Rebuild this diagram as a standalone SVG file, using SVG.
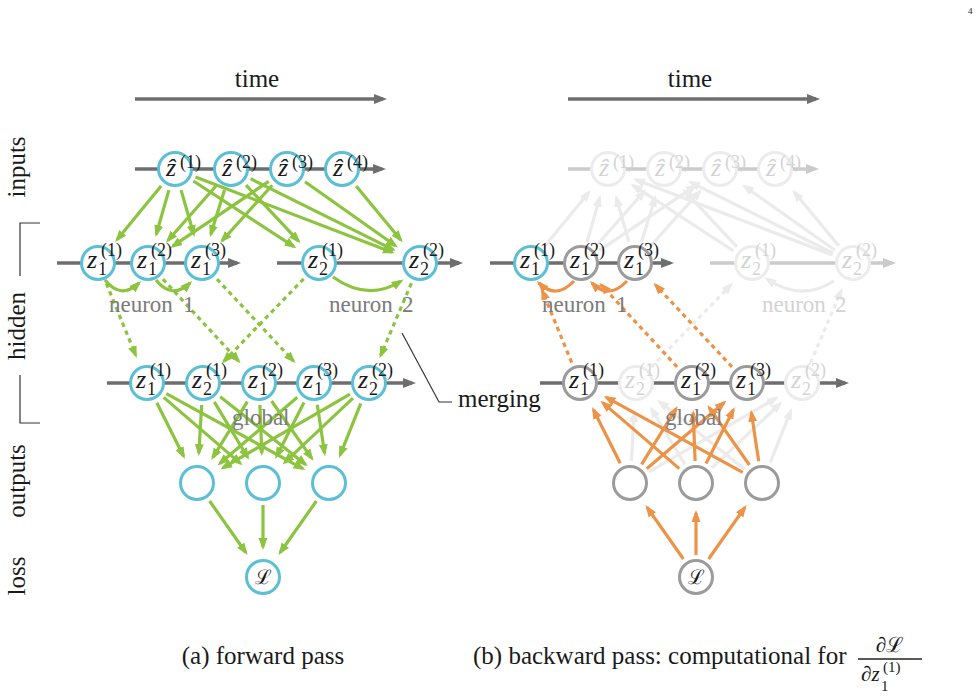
<svg xmlns="http://www.w3.org/2000/svg" width="979" height="699" viewBox="0 0 979 699">
<style>
text{font-family:"Liberation Serif","DejaVu Serif",serif;fill:#1a1a1a}
.lbl{font-size:25px}
.gl{font-size:23px;fill:#7b7b7b}
.gf{font-size:23px;fill:#d3d3d3}
.mi{font-size:26px;font-style:italic}
.sm{font-size:18px}
.ft{fill:#d3d3d3}
.n{fill:#fff;stroke:#5bbfd5;stroke-width:3}
.ng{fill:#fff;stroke:#9b9b9b;stroke-width:3}
.nf{fill:#fff;stroke:#ececec;stroke-width:3}
.ax{stroke:#6e6e6e;stroke-width:3.5;fill:none;marker-end:url(#aa)}
.axf{stroke:#cbcbcb;stroke-width:3.5;fill:none;marker-end:url(#aaf)}
.g{stroke:#8cc43f;stroke-width:3.2;fill:none;marker-end:url(#ag)}
.o{stroke:#ec9348;stroke-width:3.2;fill:none;marker-end:url(#ao)}
.f{stroke:#ebebeb;stroke-width:3.2;fill:none;marker-end:url(#af)}
.d{stroke-dasharray:4.5 4}
.br{stroke:#333;stroke-width:1.2;fill:none}
</style>
<defs>
<marker id="ag" markerUnits="userSpaceOnUse" markerWidth="12" markerHeight="10" viewBox="0 0 12 10" refX="9" refY="5" orient="auto"><path d="M0,0.5 L12,5 L0,9.5 z" fill="#8cc43f"/></marker>
<marker id="ao" markerUnits="userSpaceOnUse" markerWidth="12" markerHeight="10" viewBox="0 0 12 10" refX="9" refY="5" orient="auto"><path d="M0,0.5 L12,5 L0,9.5 z" fill="#ec9348"/></marker>
<marker id="af" markerUnits="userSpaceOnUse" markerWidth="12" markerHeight="10" viewBox="0 0 12 10" refX="9" refY="5" orient="auto"><path d="M0,0.5 L12,5 L0,9.5 z" fill="#ebebeb"/></marker>
<marker id="aa" markerUnits="userSpaceOnUse" markerWidth="13" markerHeight="11" viewBox="0 0 13 11" refX="9" refY="5.5" orient="auto"><path d="M0,0.5 L13,5.5 L0,10.5 z" fill="#6e6e6e"/></marker>
<marker id="aaf" markerUnits="userSpaceOnUse" markerWidth="13" markerHeight="11" viewBox="0 0 13 11" refX="9" refY="5.5" orient="auto"><path d="M0,0.5 L13,5.5 L0,10.5 z" fill="#cbcbcb"/></marker>
</defs>
<rect width="979" height="699" fill="#fff"/>
<text x="968" y="14" font-size="9">4</text>

<g id="labels">
<text class="lbl" x="257" y="87" text-anchor="middle">time</text>
<text class="lbl" x="690" y="87" text-anchor="middle">time</text>
<text class="lbl" transform="translate(25,167) rotate(-90)" text-anchor="middle">inputs</text>
<text class="lbl" transform="translate(25,326) rotate(-90)" text-anchor="middle">hidden</text>
<text class="lbl" transform="translate(25,481) rotate(-90)" text-anchor="middle">outputs</text>
<text class="lbl" transform="translate(25,576) rotate(-90)" text-anchor="middle">loss</text>
<polyline class="br" points="40,223 20,223 20,276"/>
<polyline class="br" points="20,375 20,423 40,423"/>
<polyline class="br" points="402,333 439,402 452,402"/>
<text class="lbl" x="458" y="407">merging</text>
<text class="lbl" x="263" y="664" text-anchor="middle">(a) forward pass</text>
<text class="lbl" x="473" y="664">(b) backward pass: computational for</text>
<line x1="858" y1="659" x2="922" y2="659" stroke="#222" stroke-width="1.3"/>
<text x="890" y="652" font-size="21" text-anchor="middle">∂ℒ</text>
<text x="861" y="681" font-size="21">∂<tspan font-style="italic">z</tspan></text>
<text x="881" y="691" font-size="15">1</text>
<text x="883" y="672" font-size="15">(1)</text>
</g>

<g id="axes">
<line class="ax" x1="135" y1="99" x2="383" y2="99"/>
<line class="ax" x1="568" y1="99" x2="816" y2="99"/>
<line class="ax" x1="135" y1="169" x2="382" y2="169"/>
<line class="ax" x1="57" y1="263" x2="237" y2="263"/>
<line class="ax" x1="277" y1="263" x2="459" y2="263"/>
<line class="ax" x1="107" y1="383" x2="412" y2="383"/>
<line class="axf" x1="568" y1="169" x2="815" y2="169"/>
<line class="ax" x1="490" y1="263" x2="670" y2="263"/>
<line class="axf" x1="710" y1="263" x2="892" y2="263"/>
<line class="ax" x1="540" y1="383" x2="845" y2="383"/>
</g>

<g id="connectors">
<!-- forward: inputs to hidden -->
<line class="g" x1="161.1" y1="186" x2="117" y2="239.8"/>
<line class="g" x1="168.9" y1="190.1" x2="156.3" y2="234.2"/>
<line class="g" x1="181.1" y1="190.1" x2="193.7" y2="234.2"/>
<line class="g" x1="193.4" y1="181" x2="293.9" y2="246.6"/>
<line class="g" x1="195.5" y1="176.9" x2="392" y2="252.3"/>
<line class="g" x1="216.4" y1="185.5" x2="167.9" y2="240.5"/>
<line class="g" x1="224.5" y1="190" x2="210.8" y2="234.3"/>
<line class="g" x1="246" y1="185.1" x2="298.5" y2="241.1"/>
<line class="g" x1="250.7" y1="178.8" x2="393.1" y2="249.6"/>
<line class="g" x1="268.8" y1="181.3" x2="172.8" y2="246.2"/>
<line class="g" x1="272.2" y1="185.3" x2="222.1" y2="240.7"/>
<line class="g" x1="305" y1="181.7" x2="395.5" y2="245.7"/>
<line class="g" x1="356.1" y1="185.9" x2="400.8" y2="239.9"/>
<!-- recurrent -->
<path class="g" d="M105,280 Q121,300 139,283"/>
<path class="g" d="M156,280 Q172,300 190,283"/>
<path class="g" d="M333,277 Q368,302 401,281"/>
<!-- merging (dotted) -->
<line class="g d" x1="106.3" y1="283.4" x2="135.7" y2="355.2"/>
<line class="g d" x1="162.9" y1="279.1" x2="238.6" y2="361"/>
<line class="g d" x1="217" y1="279.1" x2="293.5" y2="361.1"/>
<line class="g d" x1="303.7" y1="278.8" x2="223.9" y2="361.4"/>
<line class="g d" x1="411.4" y1="283.2" x2="380.7" y2="355.4"/>
<!-- merged to outputs -->
<line class="g" x1="156.8" y1="402.7" x2="183.6" y2="456.2"/>
<line class="g" x1="163.7" y1="397.4" x2="240.3" y2="463.4"/>
<line class="g" x1="166.3" y1="393.6" x2="302.7" y2="468.6"/>
<line class="g" x1="201.7" y1="405" x2="198.8" y2="453.1"/>
<line class="g" x1="214.3" y1="401.9" x2="247.6" y2="457.3"/>
<line class="g" x1="220.2" y1="396.7" x2="305.5" y2="464.4"/>
<line class="g" x1="247.4" y1="401.7" x2="212.8" y2="457.5"/>
<line class="g" x1="259.9" y1="405" x2="261.8" y2="453"/>
<line class="g" x1="271.6" y1="401" x2="311.8" y2="458.4"/>
<line class="g" x1="297.3" y1="397.3" x2="219.8" y2="463.5"/>
<line class="g" x1="304" y1="402.6" x2="276.6" y2="456.3"/>
<line class="g" x1="317.3" y1="404.8" x2="324.6" y2="453.3"/>
<line class="g" x1="350" y1="394.1" x2="222.9" y2="467.9"/>
<line class="g" x1="353" y1="398.1" x2="284.8" y2="462.4"/>
<line class="g" x1="360.8" y1="403.4" x2="340.1" y2="455.2"/>
<!-- outputs to loss -->
<line class="g" x1="209.6" y1="501" x2="245.8" y2="552.5"/>
<line class="g" x1="263" y1="505" x2="263" y2="547"/>
<line class="g" x1="316.4" y1="501" x2="280.2" y2="552.5"/>

<!-- backward: faded -->
<line class="f" x1="544.9" y1="246" x2="589" y2="192.2"/>
<line class="f" x1="587.1" y1="241.9" x2="599.7" y2="197.8"/>
<line class="f" x1="628.9" y1="241.9" x2="616.3" y2="197.8"/>
<line class="f" x1="733.6" y1="251" x2="633.1" y2="185.4"/>
<line class="f" x1="832.5" y1="255.1" x2="636" y2="179.7"/>
<line class="f" x1="595.6" y1="246.5" x2="644.1" y2="191.5"/>
<line class="f" x1="641.5" y1="242" x2="655.1" y2="197.7"/>
<line class="f" x1="737" y1="246.9" x2="684.5" y2="190.9"/>
<line class="f" x1="833.3" y1="253.2" x2="690.9" y2="182.4"/>
<line class="f" x1="599.2" y1="250.7" x2="695.2" y2="185.8"/>
<line class="f" x1="649.8" y1="246.7" x2="699.9" y2="191.3"/>
<line class="f" x1="835" y1="250.3" x2="744.5" y2="186.3"/>
<line class="f" x1="838.9" y1="246.1" x2="794.2" y2="192.1"/>
<path class="f" d="M834,281 Q801,302 767,279"/>
<line class="f d" x1="651.3" y1="367.2" x2="731.1" y2="284.6"/>
<line class="f d" x1="810.6" y1="362.8" x2="841.3" y2="290.6"/>
<line class="f" x1="631.3" y1="461" x2="634.2" y2="412.9"/>
<line class="f" x1="684.7" y1="464.1" x2="651.4" y2="408.7"/>
<line class="f" x1="744.8" y1="469.3" x2="659.5" y2="401.7"/>
<line class="f" x1="649" y1="471.9" x2="776.1" y2="398.1"/>
<line class="f" x1="712" y1="467.9" x2="780.2" y2="403.6"/>
<line class="f" x1="770.2" y1="462.6" x2="790.9" y2="410.8"/>
<!-- backward: orange -->
<path class="o" d="M574,281 Q556,300 539,283"/>
<path class="o" d="M627,281 Q609,300 592,283"/>
<line class="o d" x1="571.7" y1="362.6" x2="542.3" y2="290.8"/>
<line class="o d" x1="677.1" y1="366.9" x2="601.4" y2="285"/>
<line class="o d" x1="732" y1="366.9" x2="655.5" y2="284.9"/>
<line class="o" x1="620.2" y1="463.3" x2="593.4" y2="409.8"/>
<line class="o" x1="679.3" y1="468.6" x2="602.7" y2="402.6"/>
<line class="o" x1="742.7" y1="472.4" x2="606.3" y2="397.4"/>
<line class="o" x1="641.6" y1="464.3" x2="676.2" y2="408.5"/>
<line class="o" x1="695.1" y1="461" x2="693.2" y2="413"/>
<line class="o" x1="749.4" y1="465" x2="709.2" y2="407.6"/>
<line class="o" x1="646.7" y1="468.7" x2="724.2" y2="402.5"/>
<line class="o" x1="706" y1="463.4" x2="733.4" y2="409.7"/>
<line class="o" x1="758.7" y1="461.2" x2="751.4" y2="412.7"/>
<line class="o" x1="683.4" y1="559" x2="647.2" y2="507.5"/>
<line class="o" x1="696" y1="555" x2="696" y2="513"/>
<line class="o" x1="708.6" y1="559" x2="744.8" y2="507.5"/>
</g>

<g id="group-labels">
<text class="gl" x="109" y="312">neuron<tspan x="183">1</tspan></text>
<text class="gl" x="329" y="312">neuron<tspan x="402">2</tspan></text>
<text class="gl" x="232" y="425">global</text>
<text class="gl" x="542" y="312">neuron<tspan x="616">1</tspan></text>
<text class="gf" x="762" y="312">neuron<tspan x="835">2</tspan></text>
<text class="gl" x="665" y="425">global</text>
</g>

<!-- forward pass nodes -->
<g id="a-in1"><circle class="n" cx="175" cy="169" r="16.5"/><text class="mi" x="166" y="176">ẑ</text><text class="sm" x="180" y="168">(1)</text></g>
<g id="a-in2"><circle class="n" cx="231" cy="169" r="16.5"/><text class="mi" x="222" y="176">ẑ</text><text class="sm" x="236" y="168">(2)</text></g>
<g id="a-in3"><circle class="n" cx="287" cy="169" r="16.5"/><text class="mi" x="278" y="176">ẑ</text><text class="sm" x="292" y="168">(3)</text></g>
<g id="a-in4"><circle class="n" cx="342" cy="169" r="16.5"/><text class="mi" x="333" y="176">ẑ</text><text class="sm" x="347" y="168">(4)</text></g>
<g id="a-h11"><circle class="n" cx="98" cy="263" r="16.5"/><text class="mi" x="87" y="268">z</text><text class="sm" x="98" y="275">1</text><text class="sm" x="101" y="256">(1)</text></g>
<g id="a-h12"><circle class="n" cx="148" cy="263" r="16.5"/><text class="mi" x="137" y="268">z</text><text class="sm" x="148" y="275">1</text><text class="sm" x="151" y="256">(2)</text></g>
<g id="a-h13"><circle class="n" cx="202" cy="263" r="16.5"/><text class="mi" x="191" y="268">z</text><text class="sm" x="202" y="275">1</text><text class="sm" x="205" y="256">(3)</text></g>
<g id="a-h21"><circle class="n" cx="319" cy="263" r="16.5"/><text class="mi" x="308" y="268">z</text><text class="sm" x="319" y="275">2</text><text class="sm" x="322" y="256">(1)</text></g>
<g id="a-h22"><circle class="n" cx="420" cy="263" r="16.5"/><text class="mi" x="409" y="268">z</text><text class="sm" x="420" y="275">2</text><text class="sm" x="423" y="256">(2)</text></g>
<g id="a-m1"><circle class="n" cx="147" cy="383" r="16.5"/><text class="mi" x="136" y="388">z</text><text class="sm" x="147" y="395">1</text><text class="sm" x="150" y="376">(1)</text></g>
<g id="a-m2"><circle class="n" cx="203" cy="383" r="16.5"/><text class="mi" x="192" y="388">z</text><text class="sm" x="203" y="395">2</text><text class="sm" x="206" y="376">(1)</text></g>
<g id="a-m3"><circle class="n" cx="259" cy="383" r="16.5"/><text class="mi" x="248" y="388">z</text><text class="sm" x="259" y="395">1</text><text class="sm" x="262" y="376">(2)</text></g>
<g id="a-m4"><circle class="n" cx="314" cy="383" r="16.5"/><text class="mi" x="303" y="388">z</text><text class="sm" x="314" y="395">1</text><text class="sm" x="317" y="376">(3)</text></g>
<g id="a-m5"><circle class="n" cx="369" cy="383" r="16.5"/><text class="mi" x="358" y="388">z</text><text class="sm" x="369" y="395">2</text><text class="sm" x="372" y="376">(2)</text></g>
<g id="a-o1"><circle class="n" cx="197" cy="483" r="16.5"/></g>
<g id="a-o2"><circle class="n" cx="263" cy="483" r="16.5"/></g>
<g id="a-o3"><circle class="n" cx="329" cy="483" r="16.5"/></g>
<g id="a-loss"><circle class="n" cx="263" cy="577" r="16.5"/><text x="263" y="584" font-size="20" text-anchor="middle">ℒ</text></g>

<!-- backward pass nodes -->
<g id="b-in1"><circle class="nf" cx="608" cy="169" r="16.5"/><text class="mi ft" x="599" y="176">ẑ</text><text class="sm ft" x="613" y="168">(1)</text></g>
<g id="b-in2"><circle class="nf" cx="664" cy="169" r="16.5"/><text class="mi ft" x="655" y="176">ẑ</text><text class="sm ft" x="669" y="168">(2)</text></g>
<g id="b-in3"><circle class="nf" cx="720" cy="169" r="16.5"/><text class="mi ft" x="711" y="176">ẑ</text><text class="sm ft" x="725" y="168">(3)</text></g>
<g id="b-in4"><circle class="nf" cx="775" cy="169" r="16.5"/><text class="mi ft" x="766" y="176">ẑ</text><text class="sm ft" x="780" y="168">(4)</text></g>
<g id="b-h11"><circle class="n" cx="531" cy="263" r="16.5"/><text class="mi" x="520" y="268">z</text><text class="sm" x="531" y="275">1</text><text class="sm" x="534" y="256">(1)</text></g>
<g id="b-h12"><circle class="ng" cx="581" cy="263" r="16.5"/><text class="mi" x="570" y="268">z</text><text class="sm" x="581" y="275">1</text><text class="sm" x="584" y="256">(2)</text></g>
<g id="b-h13"><circle class="ng" cx="635" cy="263" r="16.5"/><text class="mi" x="624" y="268">z</text><text class="sm" x="635" y="275">1</text><text class="sm" x="638" y="256">(3)</text></g>
<g id="b-h21"><circle class="nf" cx="752" cy="263" r="16.5"/><text class="mi ft" x="741" y="268">z</text><text class="sm ft" x="752" y="275">2</text><text class="sm ft" x="755" y="256">(1)</text></g>
<g id="b-h22"><circle class="nf" cx="853" cy="263" r="16.5"/><text class="mi ft" x="842" y="268">z</text><text class="sm ft" x="853" y="275">2</text><text class="sm ft" x="856" y="256">(2)</text></g>
<g id="b-m1"><circle class="ng" cx="580" cy="383" r="16.5"/><text class="mi" x="569" y="388">z</text><text class="sm" x="580" y="395">1</text><text class="sm" x="583" y="376">(1)</text></g>
<g id="b-m2"><circle class="nf" cx="636" cy="383" r="16.5"/><text class="mi ft" x="625" y="388">z</text><text class="sm ft" x="636" y="395">2</text><text class="sm ft" x="639" y="376">(1)</text></g>
<g id="b-m3"><circle class="ng" cx="692" cy="383" r="16.5"/><text class="mi" x="681" y="388">z</text><text class="sm" x="692" y="395">1</text><text class="sm" x="695" y="376">(2)</text></g>
<g id="b-m4"><circle class="ng" cx="747" cy="383" r="16.5"/><text class="mi" x="736" y="388">z</text><text class="sm" x="747" y="395">1</text><text class="sm" x="750" y="376">(3)</text></g>
<g id="b-m5"><circle class="nf" cx="802" cy="383" r="16.5"/><text class="mi ft" x="791" y="388">z</text><text class="sm ft" x="802" y="395">2</text><text class="sm ft" x="805" y="376">(2)</text></g>
<g id="b-o1"><circle class="ng" cx="630" cy="483" r="16.5"/></g>
<g id="b-o2"><circle class="ng" cx="696" cy="483" r="16.5"/></g>
<g id="b-o3"><circle class="ng" cx="762" cy="483" r="16.5"/></g>
<g id="b-loss"><circle class="ng" cx="696" cy="577" r="16.5"/><text x="696" y="584" font-size="20" text-anchor="middle">ℒ</text></g>
</svg>
